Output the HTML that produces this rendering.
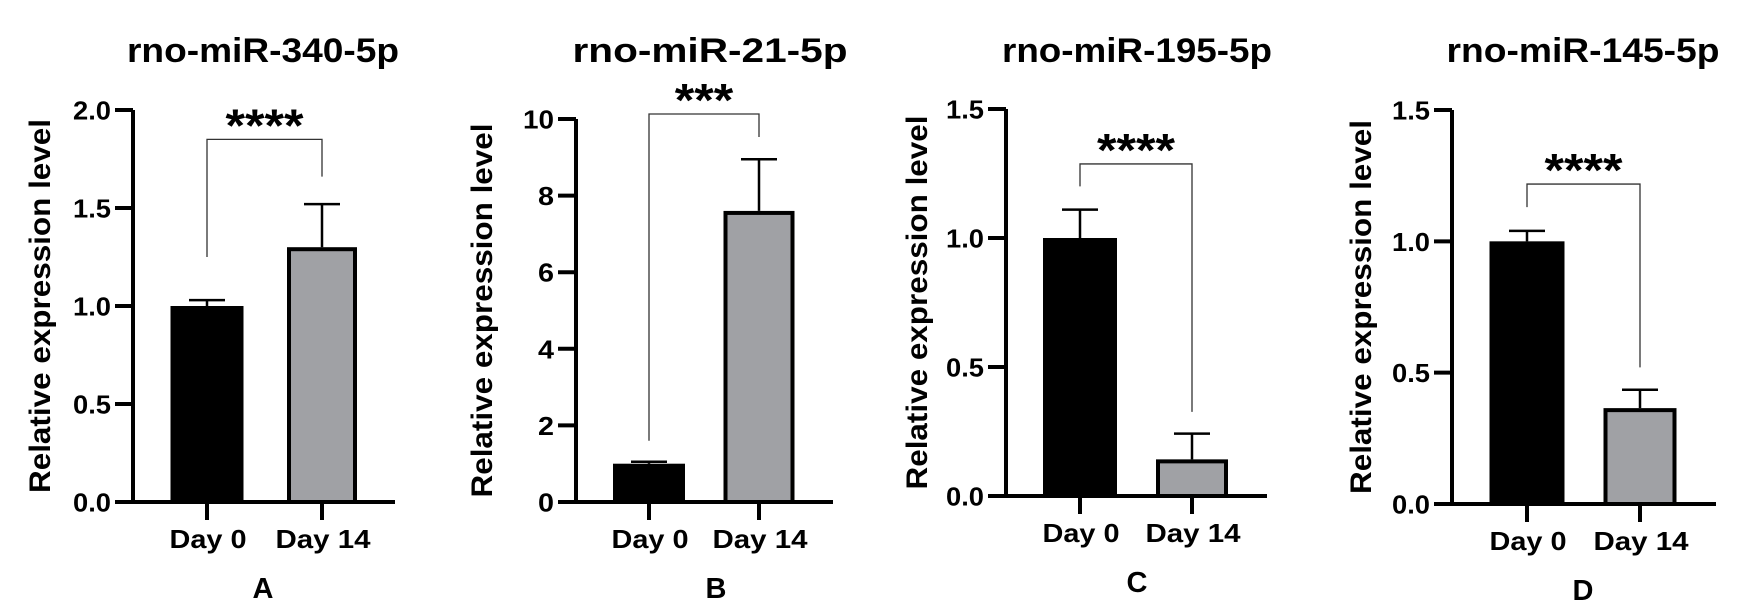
<!DOCTYPE html>
<html><head><meta charset="utf-8"><style>
html,body{margin:0;padding:0;background:#fff;}
svg{display:block;font-family:"Liberation Sans",Arial,sans-serif;font-weight:bold;}
</style></head>
<body>
<svg id="fig" width="1746" height="608" viewBox="0 0 1746 608" xmlns="http://www.w3.org/2000/svg"></svg>
<script>
const categories = ["Day 0", "Day 14"];
const panelTitles = ["rno-miR-340-5p", "rno-miR-21-5p", "rno-miR-195-5p", "rno-miR-145-5p"];
const panelLetters = ["A", "B", "C", "D"];
const meansA = [1.0, 1.30];
const errsA = [0.03, 0.22];
const meansB = [1.0, 7.6];
const errsB = [0.05, 1.35];
const meansC = [1.0, 0.142];
const errsC = [0.11, 0.10];
const meansD = [1.0, 0.365];
const errsD = [0.04, 0.07];
const ticksA = [0, 0.5, 1.0, 1.5, 2.0];
const tickLabelsA = ["0.0", "0.5", "1.0", "1.5", "2.0"];
const ticksB = [0, 2, 4, 6, 8, 10];
const tickLabelsB = ["0", "2", "4", "6", "8", "10"];
const ticksC = [0, 0.5, 1.0, 1.5];
const tickLabelsC = ["0.0", "0.5", "1.0", "1.5"];
const ticksD = [0, 0.5, 1.0, 1.5];
const tickLabelsD = ["0.0", "0.5", "1.0", "1.5"];
const sigLabels = ["****", "***", "****", "****"];
const bracketEnds = [[1.25, 1.66], [1.6, 9.53], [1.2, 0.326], [1.13, 0.52]];
const bracketLevels = [1.85, 10.13, 1.287, 1.218];

const allMeans = [meansA, meansB, meansC, meansD];
const allErrs = [errsA, errsB, errsC, errsD];
const allTicks = [ticksA, ticksB, ticksC, ticksD];
const allTickLabels = [tickLabelsA, tickLabelsB, tickLabelsC, tickLabelsD];

// layout (pixels)
const layout = [
  {ax:133, yTop:110, y0:502, xEnd:395, cx:[207,322], bw:[73,70], tx:263, tLen:272, ylx:40, lx:263},
  {ax:576, yTop:119, y0:502, xEnd:833, cx:[649,759], bw:[72,71], tx:710, tLen:275, ylx:482, lx:716},
  {ax:1006, yTop:109, y0:496, xEnd:1267, cx:[1080,1192], bw:[74,72], tx:1137, tLen:270, ylx:917, lx:1137},
  {ax:1452, yTop:110, y0:504, xEnd:1716, cx:[1527,1640], bw:[75,73], tx:1583, tLen:273, ylx:1361, lx:1583}
];

const NS = "http://www.w3.org/2000/svg";
const svg = document.getElementById("fig");
function mk(tag, attrs, parent){
  const e = document.createElementNS(NS, tag);
  for (const k in attrs) e.setAttribute(k, attrs[k]);
  (parent || svg).appendChild(e);
  return e;
}

for (let p = 0; p < 4; p++) {
  const L = layout[p];
  const ticks = allTicks[p];
  const yMax = ticks[ticks.length - 1];
  const y = v => L.y0 - (v / yMax) * (L.y0 - L.yTop);
  const g = mk("g", {});
  
  

  const title = mk("text", {x:L.tx, y:62, "text-anchor":"middle", "font-size":34, textLength:L.tLen, lengthAdjust:"spacingAndGlyphs"}, g);
  title.textContent = panelTitles[p];
  
  

  const yl = mk("text", {x:0, y:0, "text-anchor":"middle", "font-size":30, textLength:374, lengthAdjust:"spacingAndGlyphs", transform:`translate(${L.ylx+10},${(L.yTop+L.y0)/2}) rotate(-90)`}, g);
  yl.textContent = "Relative expression level";
  
  

  // bars
  for (let i = 0; i < 2; i++) {
    const top = y(allMeans[p][i]);
    const bw = L.bw[i];
    const et = y(allMeans[p][i] + allErrs[p][i]);
    const eb = mk("path", {d:`M${L.cx[i]},${top} V${et} M${L.cx[i]-18},${et} H${L.cx[i]+18}`, stroke:"#000", "stroke-width":2.5, fill:"none"}, g);
    
    
    const r = mk("rect", {x:L.cx[i]-bw/2+2, y:top+2, width:bw-4, height:Math.max(0, L.y0-top-2), fill:i===0?"#000":"#a0a1a5", stroke:"#000", "stroke-width":4}, g);
    
    
  }

  // axes
  const axes = mk("path", {d:`M${L.ax},${L.yTop} V${L.y0} H${L.xEnd}`, stroke:"#000", "stroke-width":4, fill:"none"}, g);
  
  

  ticks.forEach((t, k) => {
    const ty = y(t);
    const tl = mk("line", {x1:L.ax-18, x2:L.ax, y1:ty, y2:ty, stroke:"#000", "stroke-width":4}, g);
    
    
    const lab = allTickLabels[p][k];
    const tt = mk("text", {x:L.ax-22, y:ty+9.5, "text-anchor":"end", "font-size":26, textLength:lab.length===3?38:(lab.length===2?31:16), lengthAdjust:"spacingAndGlyphs"}, g);
    tt.textContent = lab;
    
    
  });

  categories.forEach((c, i) => {
    const xt = mk("line", {x1:L.cx[i], x2:L.cx[i], y1:L.y0, y2:L.y0+18, stroke:"#000", "stroke-width":4}, g);
    
    
    const ct = mk("text", {x:L.cx[i]+1, y:L.y0+46, "text-anchor":"middle", "font-size":26, textLength:i===0?77:95, lengthAdjust:"spacingAndGlyphs"}, g);
    ct.textContent = c;
    
    
  });

  // significance bracket
  const by = y(bracketLevels[p]);
  const br = mk("path", {d:`M${L.cx[0]},${y(bracketEnds[p][0])} V${by} H${L.cx[1]} V${y(bracketEnds[p][1])}`, stroke:"#333", "stroke-width":1.3, fill:"none"}, g);
  
  
  const st = mk("text", {x:(L.cx[0]+L.cx[1])/2, y:by+2, "text-anchor":"middle", "font-size":46, textLength:sigLabels[p].length*19.5, lengthAdjust:"spacingAndGlyphs"}, g);
  st.textContent = sigLabels[p];
  
  

  const lt = mk("text", {x:L.lx, y:L.y0+96, "text-anchor":"middle", "font-size":29}, g);
  lt.textContent = panelLetters[p];
  
  
}
</script>
</body></html>
